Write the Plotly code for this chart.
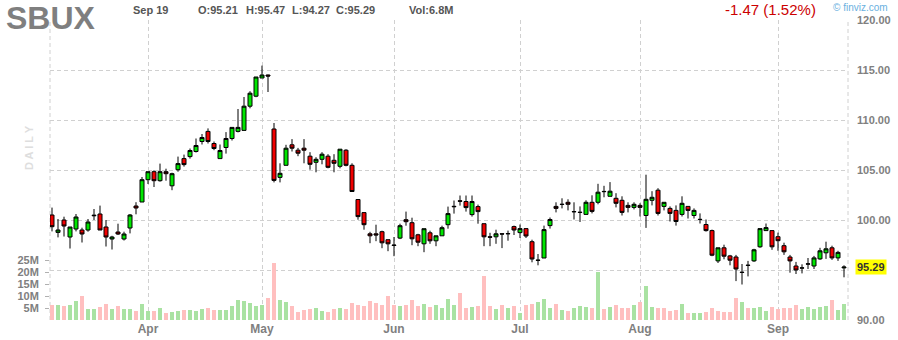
import plotly.graph_objects as go
import pandas as pd

# ---------------- data ----------------
ticker = "SBUX"
holidays = ["2023-04-07", "2023-05-29", "2023-06-19", "2023-07-04", "2023-09-04"]
dates = pd.bdate_range("2023-03-10", "2023-09-19", freq="C", holidays=holidays)

opens = [100.50, 98.76, 100.00, 98.30, 99.10, 99.00, 99.00, 100.42, 100.60, 99.30,
         98.10, 98.80, 98.10, 99.20, 101.40, 101.80, 104.03, 104.83, 103.93, 104.83,
         103.42, 105.03, 106.14, 106.34, 106.85, 107.85, 108.86, 107.65, 106.14, 107.25,
         108.15, 108.86, 108.96, 111.38, 112.38, 114.20, 114.50, 109.10, 104.26, 105.47,
         107.52, 106.98, 107.18, 106.38, 105.77, 106.07, 106.38, 105.97, 105.37, 106.98,
         105.47, 102.05, 100.74, 98.62, 98.62, 98.83, 98.03, 97.50, 98.19, 100.03,
         99.73, 98.52, 97.62, 98.72, 97.92, 98.42, 99.53, 101.32, 101.92, 101.85,
         100.54, 101.34, 99.63, 98.32, 98.32, 98.62, 98.62, 99.34, 98.74, 99.14,
         97.83, 95.96, 96.20, 99.44, 101.36, 101.55, 101.77, 100.82, 100.75, 100.56,
         101.77, 101.77, 102.86, 102.37, 102.17, 101.97, 101.46, 101.26, 101.46, 100.45,
         101.97, 102.98, 101.36, 101.16, 100.96, 100.56, 101.36, 100.45, 100.04, 99.55,
         98.94, 95.91, 97.22, 96.41, 96.30, 94.75, 95.48, 95.91, 97.32, 98.94,
         98.94, 98.33, 97.43, 96.30, 95.40, 95.19, 95.59, 95.40, 96.11, 96.72,
         97.22, 96.21, 95.21]
highs = [101.24, 100.10, 100.33, 99.30, 100.60, 99.23, 100.10, 101.10, 101.44, 100.00,
         98.42, 99.63, 98.83, 100.60, 101.78, 104.30, 104.83, 104.97, 105.64, 105.13,
         104.73, 106.34, 106.54, 107.15, 108.15, 108.60, 109.16, 107.85, 107.55, 108.79,
         109.26, 111.10, 112.30, 112.88, 114.30, 115.44, 114.55, 109.70, 105.67, 107.52,
         108.09, 107.21, 108.09, 106.78, 106.28, 106.78, 106.58, 106.58, 107.08, 107.08,
         105.67, 102.05, 100.74, 98.82, 99.53, 98.93, 98.03, 98.30, 99.63, 100.84,
         100.23, 98.62, 99.13, 98.93, 98.42, 99.43, 101.34, 101.95, 102.45, 102.45,
         102.45, 101.54, 99.63, 98.72, 99.03, 98.62, 98.94, 99.44, 99.55, 99.14,
         98.03, 96.60, 99.44, 100.25, 101.77, 102.17, 102.07, 101.77, 101.36, 101.97,
         102.47, 103.62, 103.42, 103.79, 102.68, 102.37, 101.77, 101.77, 101.67, 104.53,
         102.88, 103.18, 101.77, 101.36, 101.46, 102.37, 101.36, 101.16, 100.66, 100.05,
         99.04, 97.22, 97.53, 96.51, 96.51, 95.60, 95.91, 97.12, 99.14, 99.65,
         98.94, 98.74, 97.73, 96.51, 95.81, 95.57, 96.20, 96.41, 97.22, 97.83,
         97.43, 96.92, 95.47]
lows = [98.86, 98.26, 98.35, 97.15, 98.86, 97.75, 98.83, 100.00, 99.00, 97.35,
        97.05, 98.50, 97.95, 98.66, 100.57, 101.80, 103.60, 103.30, 103.83, 103.93,
        102.98, 104.83, 105.34, 106.14, 106.75, 107.55, 107.65, 106.98, 106.14, 106.64,
        107.95, 108.76, 108.96, 111.17, 112.28, 114.20, 112.80, 103.76, 103.76, 105.47,
        106.85, 106.38, 105.67, 105.03, 104.77, 105.57, 105.17, 104.77, 105.17, 105.37,
        102.85, 100.03, 99.03, 97.68, 97.88, 97.18, 96.88, 96.38, 98.09, 99.43,
        97.48, 97.38, 96.78, 97.62, 97.38, 98.42, 99.13, 100.64, 101.44, 100.84,
        100.34, 99.63, 97.38, 97.38, 97.62, 97.19, 97.93, 98.50, 98.20, 98.20,
        95.77, 95.47, 96.20, 99.14, 100.76, 101.16, 100.96, 100.05, 99.80, 100.56,
        100.66, 101.57, 102.27, 102.37, 101.26, 100.45, 100.76, 101.06, 100.35, 99.21,
        101.46, 100.45, 100.96, 99.85, 99.44, 100.35, 100.15, 100.15, 99.65, 98.84,
        96.38, 95.70, 96.07, 95.47, 93.89, 93.55, 94.36, 95.81, 97.22, 98.94,
        97.02, 96.92, 96.51, 94.73, 94.60, 94.66, 95.10, 95.10, 96.01, 96.11,
        96.01, 95.91, 94.27]
closes = [99.33, 99.00, 99.40, 99.30, 100.30, 98.60, 99.80, 100.47, 99.00, 98.30,
          98.30, 98.60, 98.60, 100.50, 101.20, 104.03, 104.83, 103.93, 104.83, 104.63,
          104.63, 105.64, 105.54, 106.95, 107.45, 108.25, 107.85, 107.15, 106.95, 108.15,
          109.26, 109.26, 111.38, 112.68, 114.30, 114.50, 114.40, 103.96, 104.67, 107.18,
          107.18, 106.68, 106.98, 105.57, 106.07, 106.58, 105.27, 105.67, 107.08, 105.47,
          102.85, 100.34, 99.53, 98.42, 98.50, 97.72, 97.62, 97.46, 99.43, 99.83,
          98.12, 97.78, 99.13, 97.92, 98.42, 99.23, 100.64, 101.36, 101.88, 101.24,
          101.85, 100.84, 98.32, 98.28, 98.62, 98.60, 98.64, 99.00, 99.14, 98.40,
          96.10, 95.98, 99.04, 100.05, 101.16, 101.57, 101.57, 100.84, 100.77, 101.77,
          100.86, 102.78, 102.84, 102.88, 101.67, 100.76, 101.26, 101.57, 101.26, 102.07,
          102.27, 100.66, 101.77, 100.66, 99.85, 101.67, 100.96, 100.96, 100.06, 98.94,
          96.48, 97.22, 96.38, 95.98, 95.10, 94.77, 95.46, 97.02, 99.14, 99.24,
          97.32, 97.93, 96.82, 95.91, 95.00, 95.21, 95.61, 96.21, 96.92, 97.12,
          96.21, 96.76, 95.29]
volumes_m = [6.25, 6.25, 5.8, 6.25, 7.9, 10.0, 4.6, 4.6, 5.4, 6.7,
             4.6, 5.8, 4.6, 4.6, 3.75, 6.7, 3.75, 3.75, 5.0, 2.9,
             3.5, 3.75, 4.2, 4.2, 3.75, 4.6, 5.0, 4.2, 4.2, 4.2,
             5.8, 8.3, 7.9, 7.1, 5.8, 6.25, 9.2, 23.75, 8.3, 7.5,
             5.8, 3.3, 4.2, 4.6, 5.0, 3.75, 3.3, 4.6, 5.0, 4.6,
             7.1, 6.25, 5.8, 7.9, 7.1, 6.25, 10.0, 6.25, 5.8, 6.25,
             8.3, 5.8, 6.7, 5.4, 6.25, 5.0, 8.75, 6.25, 11.25, 5.0,
             5.4, 5.8, 18.3, 5.8, 4.6, 6.25, 5.0, 5.8, 2.9, 6.25,
             6.7, 7.5, 8.75, 5.0, 6.7, 4.2, 3.75, 5.0, 5.8, 5.4,
             5.0, 20.0, 4.6, 5.4, 6.25, 5.0, 5.0, 6.25, 7.5, 14.2,
             5.4, 5.0, 5.0, 3.75, 4.2, 6.7, 2.9, 2.9, 2.9, 3.3,
             5.0, 3.75, 3.3, 3.3, 9.2, 7.5, 5.0, 5.0, 5.4, 3.75,
             5.4, 4.6, 5.0, 5.0, 6.25, 4.6, 5.4, 4.6, 5.4, 5.8,
             8.3, 4.2, 6.8]
# volume bar direction: u = up day (green), d = down day (red)
vol_dir = ["d", "u", "d", "u", "u", "d", "u", "u", "d", "d",
           "u", "d", "u", "u", "d", "u", "u", "d", "u", "d",
           "u", "u", "d", "u", "u", "u", "d", "d", "u", "u",
           "u", "u", "u", "u", "u", "u", "d", "d", "u", "u",
           "d", "d", "d", "d", "u", "u", "d", "d", "u", "d",
           "d", "d", "d", "d", "d", "d", "d", "d", "u", "d",
           "d", "d", "u", "d", "u", "u", "u", "u", "d", "d",
           "u", "d", "d", "d", "u", "d", "u", "d", "u", "d",
           "d", "u", "u", "u", "d", "u", "d", "u", "u", "u",
           "d", "u", "d", "u", "d", "d", "d", "u", "d", "u",
           "u", "d", "d", "d", "d", "u", "d", "u", "u", "d",
           "d", "d", "d", "d", "d", "u", "d", "u", "u", "u",
           "d", "d", "d", "d", "d", "u", "u", "u", "u", "u",
           "d", "u", "u"]

price_ticks = [90, 95, 100, 105, 110, 115, 120]
vol_ticks_m = [5, 10, 15, 20, 25]
month_names = ["Apr", "May", "Jun", "Jul", "Aug", "Sep"]

last = dict(date="Sep 19", o=95.21, h=95.47, l=94.27, c=95.29, vol="6.8M",
            change="-1.47 (1.52%)")

# ---------------- derived ----------------
idx = list(range(len(dates)))
month_idx = []
for i in range(1, len(dates)):
    if dates[i].month != dates[i - 1].month:
        month_idx.append(i)

GREEN_V, RED_V = "#a9e2a2", "#ffbfbf"
vol_colors = [GREEN_V if d == "u" else RED_V for d in vol_dir]
GRID = "#d0d0d0"
TXT = "#808080"
FONT = "Liberation Sans, Arial, sans-serif"

# the last-price flag replaces the nearby 95.00 label
price_text = ["" if abs(v - last["c"]) < 2.5 else f"{v:.2f}" for v in price_ticks]

fig = go.Figure()
fig.add_trace(go.Bar(x=idx, y=[v * 1e6 for v in volumes_m],
                     marker=dict(color=vol_colors, line=dict(width=0)),
                     width=0.82, yaxis="y", hoverinfo="skip", showlegend=False))
fig.add_trace(go.Candlestick(
    x=idx, open=opens, high=highs, low=lows, close=closes, yaxis="y2",
    increasing=dict(line=dict(color="black", width=1), fillcolor="#00e600"),
    decreasing=dict(line=dict(color="black", width=1), fillcolor="#f00000"),
    whiskerwidth=0, hoverinfo="skip", showlegend=False))

L, R, T, B = 50, 50, 20, 20
W, H = 898, 340
pw, ph = W - L - R, H - T - B


def px(x):
    return (x - L) / pw


def py(y):
    return (H - B - y) / ph


fig.update_layout(
    width=W, height=H, margin=dict(l=L, r=R, t=T, b=B, autoexpand=False),
    paper_bgcolor="white", plot_bgcolor="white",
    font=dict(family=FONT, color=TXT),
    boxgap=0.3, boxgroupgap=0.05, bargap=0,
    xaxis=dict(range=[-1 / 3, len(idx) - 1 / 3], rangeslider=dict(visible=False),
               tickvals=month_idx, ticktext=month_names[:len(month_idx)],
               showgrid=True, gridcolor=GRID, griddash="4px,3px", gridwidth=1,
               zeroline=False, showline=False, ticks="", automargin=False,
               tickfont=dict(family=FONT, size=12, color=TXT, weight="bold")),
    yaxis=dict(range=[0, 125e6], side="left", showgrid=False, zeroline=False,
               tickvals=[v * 1e6 for v in vol_ticks_m], ticktext=[f"{v}M" for v in vol_ticks_m],
               ticks="outside", ticklen=4, tickcolor="#b0b0b0", ticklabelstandoff=4,
               automargin=False,
               tickfont=dict(family=FONT, size=11, color=TXT, weight="bold")),
    yaxis2=dict(range=[90, 120], side="right", overlaying="y", showgrid=True,
                gridcolor=GRID, griddash="4px,3px", gridwidth=1, zeroline=False,
                tickvals=price_ticks, ticktext=price_text,
                ticks="", ticklabelstandoff=8, automargin=False,
                tickfont=dict(family=FONT, size=11, color=TXT, weight="bold")),
)

# dashed plot borders left/right
for xp in (0, 1):
    fig.add_shape(type="line", xref="paper", yref="paper", x0=xp, x1=xp, y0=0, y1=1,
                  line=dict(color=GRID, width=1, dash="4px,3px"), layer="below")

ann = []


def text(s, x, y, size, color, xanchor="left", bold=True, **kw):
    ann.append(dict(text=s, x=px(x), y=py(y), xref="paper", yref="paper", showarrow=False,
                    xanchor=xanchor, yanchor="middle",
                    font=dict(family=FONT, size=size, color=color, weight="bold" if bold else "normal"),
                    **kw))


text(ticker, 4, 18, 32, "#7f7f7f")
text(last["date"], 131, 10, 11, "#555555")
text(f"O:{last['o']:.2f}", 196, 10, 11, "#555555")
text(f"H:{last['h']:.2f}", 244, 10, 11, "#555555")
text(f"L:{last['l']:.2f}", 290, 10, 11, "#555555")
text(f"C:{last['c']:.2f}", 334, 10, 11, "#555555")
text(f"Vol:{last['vol']}", 407, 10, 11, "#555555")
text(last["change"], 818, 10, 15, "#cc0000", xanchor="right", bold=False)
text("© finviz.com", 831, 8, 10, "#6ab0e0", bold=False)
text("D A I L Y", 29, 148, 11, "#dedede", xanchor="center", textangle=-90)

ann.append(dict(text=f"{last['c']:.2f}", x=1, y=last["c"], xref="paper", yref="y2",
                xshift=7, xanchor="left", yanchor="middle", showarrow=False,
                bgcolor="#ffff00", borderpad=1,
                font=dict(family=FONT, size=11, color="#333333", weight="bold")))

fig.update_layout(annotations=ann)
fig.write_html("out.html")
